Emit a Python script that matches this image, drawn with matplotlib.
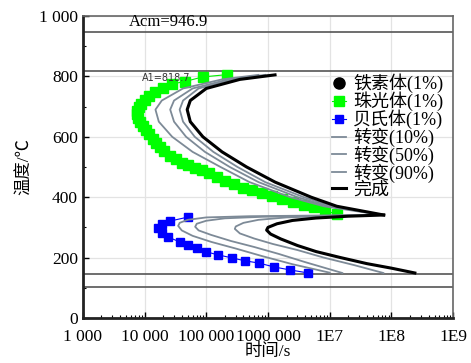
import matplotlib
matplotlib.use("Agg")
from matplotlib import pyplot as plt
from matplotlib.ticker import FixedLocator, LogLocator, NullFormatter

# pearlite 1% (green squares)
pe_t = [2.2e5, 8.7e4, 4.5e4, 2.8e4, 2.0e4, 1.5e4, 1.2e4, 1.0e4, 8.8e3, 8.0e3, 7.6e3, 7.6e3,
        7.9e3, 8.5e3, 9.4e3, 1.05e4, 1.2e4, 1.35e4, 1.55e4, 1.8e4, 2.1e4, 2.6e4, 3.2e4, 4.0e4,
        5.0e4, 6.5e4, 8.5e4, 1.1e5, 1.5e5, 2.0e5, 2.8e5, 3.9e5, 5.5e5, 8.0e5, 1.15e6, 1.7e6,
        2.5e6, 3.8e6, 5.5e6, 8.5e6, 1.3e7]
pe_T = [806, 798, 783, 775, 763, 748, 735, 722, 710, 698, 686, 674,
        662, 650, 637, 623, 608, 594, 580, 566, 552, 538, 525, 514,
        505, 497, 489, 479, 466, 453, 443, 432, 423, 413, 403, 395,
        385, 375, 366, 355, 344]

# upper C-curves (10%, 50%, 90%, finish)
up_T = [805, 790, 760, 720, 690, 650, 600, 550, 500, 450, 400, 370, 341]
up10 = [7e5, 1.8e5, 4.2e4, 1.9e4, 1.5e4, 1.7e4, 2.8e4, 6e4, 1.7e5, 5e5, 2.3e6, 8e6, 7e7]
up50 = [9e5, 2.3e5, 6e4, 3e4, 2.6e4, 3e4, 4.7e4, 9.5e4, 2.4e5, 7e5, 3e6, 9.5e6, 7.5e7]
up90 = [1.1e6, 2.8e5, 7.5e4, 4.2e4, 3.7e4, 4.2e4, 6.5e4, 1.3e5, 3.2e5, 9e5, 3.8e6, 1.1e7, 7.5e7]
upfin = [1.3e6, 3.5e5, 1e5, 5.5e4, 4.9e4, 5.5e4, 8.8e4, 1.8e5, 4.5e5, 1.3e6, 5e6, 1.3e7, 7.5e7]

# bainite 1% (blue squares)
ba_t = [5e4, 2.6e4, 1.9e4, 1.65e4, 1.9e4, 2.4e4, 3.7e4, 5e4, 7e4, 1e5, 1.55e5, 2.6e5,
        4.3e5, 7.1e5, 1.25e6, 2.3e6, 4.5e6]
ba_T = [334, 321, 311, 298, 281, 268, 252, 242, 232, 219, 209, 199,
        189, 182, 169, 159, 149]

# lower C-curves
b10_t = [7.5e7, 5e6, 5e5, 1e5, 5e4, 3.7e4, 3.5e4, 4e4, 6e4, 1.2e5, 3e5, 8e5, 2.5e6, 1e7]
b10_T = [341, 339, 337, 333, 325, 315, 305, 290, 272, 252, 230, 205, 178, 150]
b50_t = [7.5e7, 5e6, 8e5, 2e5, 1e5, 7e4, 6.6e4, 7.5e4, 1.2e5, 2.5e5, 6e5, 1.5e6, 4e6, 1.6e7]
b50_T = [341, 338, 335, 330, 322, 312, 302, 290, 275, 255, 235, 212, 185, 149]
b90_t = [7.5e7, 1e7, 2e6, 7e5, 4e5, 3e5, 2.9e5, 3.5e5, 6e5, 1.2e6, 3e6, 8e6, 2.5e7, 7.4e7]
b90_T = [341, 338, 333, 325, 315, 303, 295, 280, 263, 245, 225, 200, 175, 149]
bfin_t = [7.5e7, 2e7, 6e6, 2.5e6, 1.4e6, 1e6, 9.5e5, 1.1e6, 1.6e6, 3e6, 6e6, 1.5e7, 4e7, 1e8, 2.4e8]
bfin_T = [341, 337, 331, 323, 312, 300, 291, 278, 262, 240, 220, 200, 180, 165, 149]

Acm = 946.9
A1 = 818.7
Ms = 146
Mf = 103

xticks = [1e3, 1e4, 1e5, 1e6, 1e7, 1e8, 1e9]
xlabels = ["1 000", "10 000", "100 000", "1000 000", "1E7", "1E8", "1E9"]
yticks = [0, 200, 400, 600, 800, 1000]
ylabels = ["0", "200", "400", "600", "800", "1 000"]

serif = ["Liberation Serif", "Noto Sans CJK SC"]
cjk = ["Liberation Serif", "Noto Sans CJK SC"]
gray = "#7d8a97"

fig = plt.figure(figsize=(4.71, 3.63), dpi=100)
ax = fig.add_axes([0.176, 0.124, 0.786, 0.832])

ax.set_xscale("log")
ax.set_xlim(1e3, 1e9)
ax.set_ylim(0, 1000)

for y in [Acm, A1, Ms, Mf]:
    ax.axhline(y, color="#555555", lw=1.2, zorder=2)

ax.plot([], [], "o", color="black", ms=8, label="铁素体(1%)")
ax.plot(pe_t, pe_T, "s-", color="#00ee00", mfc="#00ff00", mec="#00ff00", ms=6.5, lw=0.8,
        label="珠光体(1%)", zorder=3)
ax.plot(ba_t, ba_T, "s-", color="#0000ff", mfc="#0000ff", mec="#0000ff", ms=6, lw=0.8,
        label="贝氏体(1%)", zorder=3)

ax.plot(up10, up_T, color=gray, lw=1.3, label="转变(10%)", zorder=4)
ax.plot(up50, up_T, color=gray, lw=1.3, label="转变(50%)", zorder=4)
ax.plot(up90, up_T, color=gray, lw=1.3, label="转变(90%)", zorder=4)
ax.plot(upfin, up_T, color="black", lw=2.2, label="完成", zorder=5)

ax.plot(b10_t, b10_T, color=gray, lw=1.3, zorder=4)
ax.plot(b50_t, b50_T, color=gray, lw=1.3, zorder=4)
ax.plot(b90_t, b90_T, color=gray, lw=1.3, zorder=4)
ax.plot(bfin_t, bfin_T, color="black", lw=2.2, zorder=5)

ax.text(2.4e4, Acm + 8, "Acm=946.9", family=serif, fontsize=12, ha="center", va="bottom")
ax.text(2.2e4, A1 - 8, "A1=818.7", family="DejaVu Sans", fontsize=7, ha="center", va="top",
        color="#333333")

ax.xaxis.set_major_locator(FixedLocator(xticks))
ax.set_xticklabels(xlabels, family=serif, fontsize=12.5)
ax.xaxis.set_minor_locator(LogLocator(base=10, subs=range(2, 10)))
ax.xaxis.set_minor_formatter(NullFormatter())
ax.yaxis.set_major_locator(FixedLocator(yticks))
ax.set_yticklabels(ylabels, family=serif, fontsize=12.5)
ax.yaxis.set_minor_locator(FixedLocator(range(100, 1000, 200)))

ax.tick_params(which="both", direction="in", top=False, right=False)
ax.tick_params(which="major", length=4, width=1)
ax.tick_params(which="minor", length=2.5, width=0.8)
ax.tick_params(axis="x", which="major", pad=8)

ax.grid(True, which="major", color="#e3e3e3", lw=0.9, zorder=0)
ax.set_axisbelow(True)

for s in ["left", "bottom"]:
    ax.spines[s].set_linewidth(2)
    ax.spines[s].set_color("#222222")
for s in ["top", "right"]:
    ax.spines[s].set_linewidth(1.2)
    ax.spines[s].set_color("#666666")

ax.set_xlabel("时间/s", family=cjk, fontsize=12.5, labelpad=-1)
ax.set_ylabel("温度/℃", family=cjk, fontsize=12.5, labelpad=4)

leg = ax.legend(loc="upper left", bbox_to_anchor=(0.672, 0.81), frameon=False,
                prop={"family": cjk, "size": 13}, handlelength=0.8, handletextpad=0.4,
                labelspacing=-0.08, borderaxespad=0, borderpad=0)

plt.savefig("out.png", dpi=100)
